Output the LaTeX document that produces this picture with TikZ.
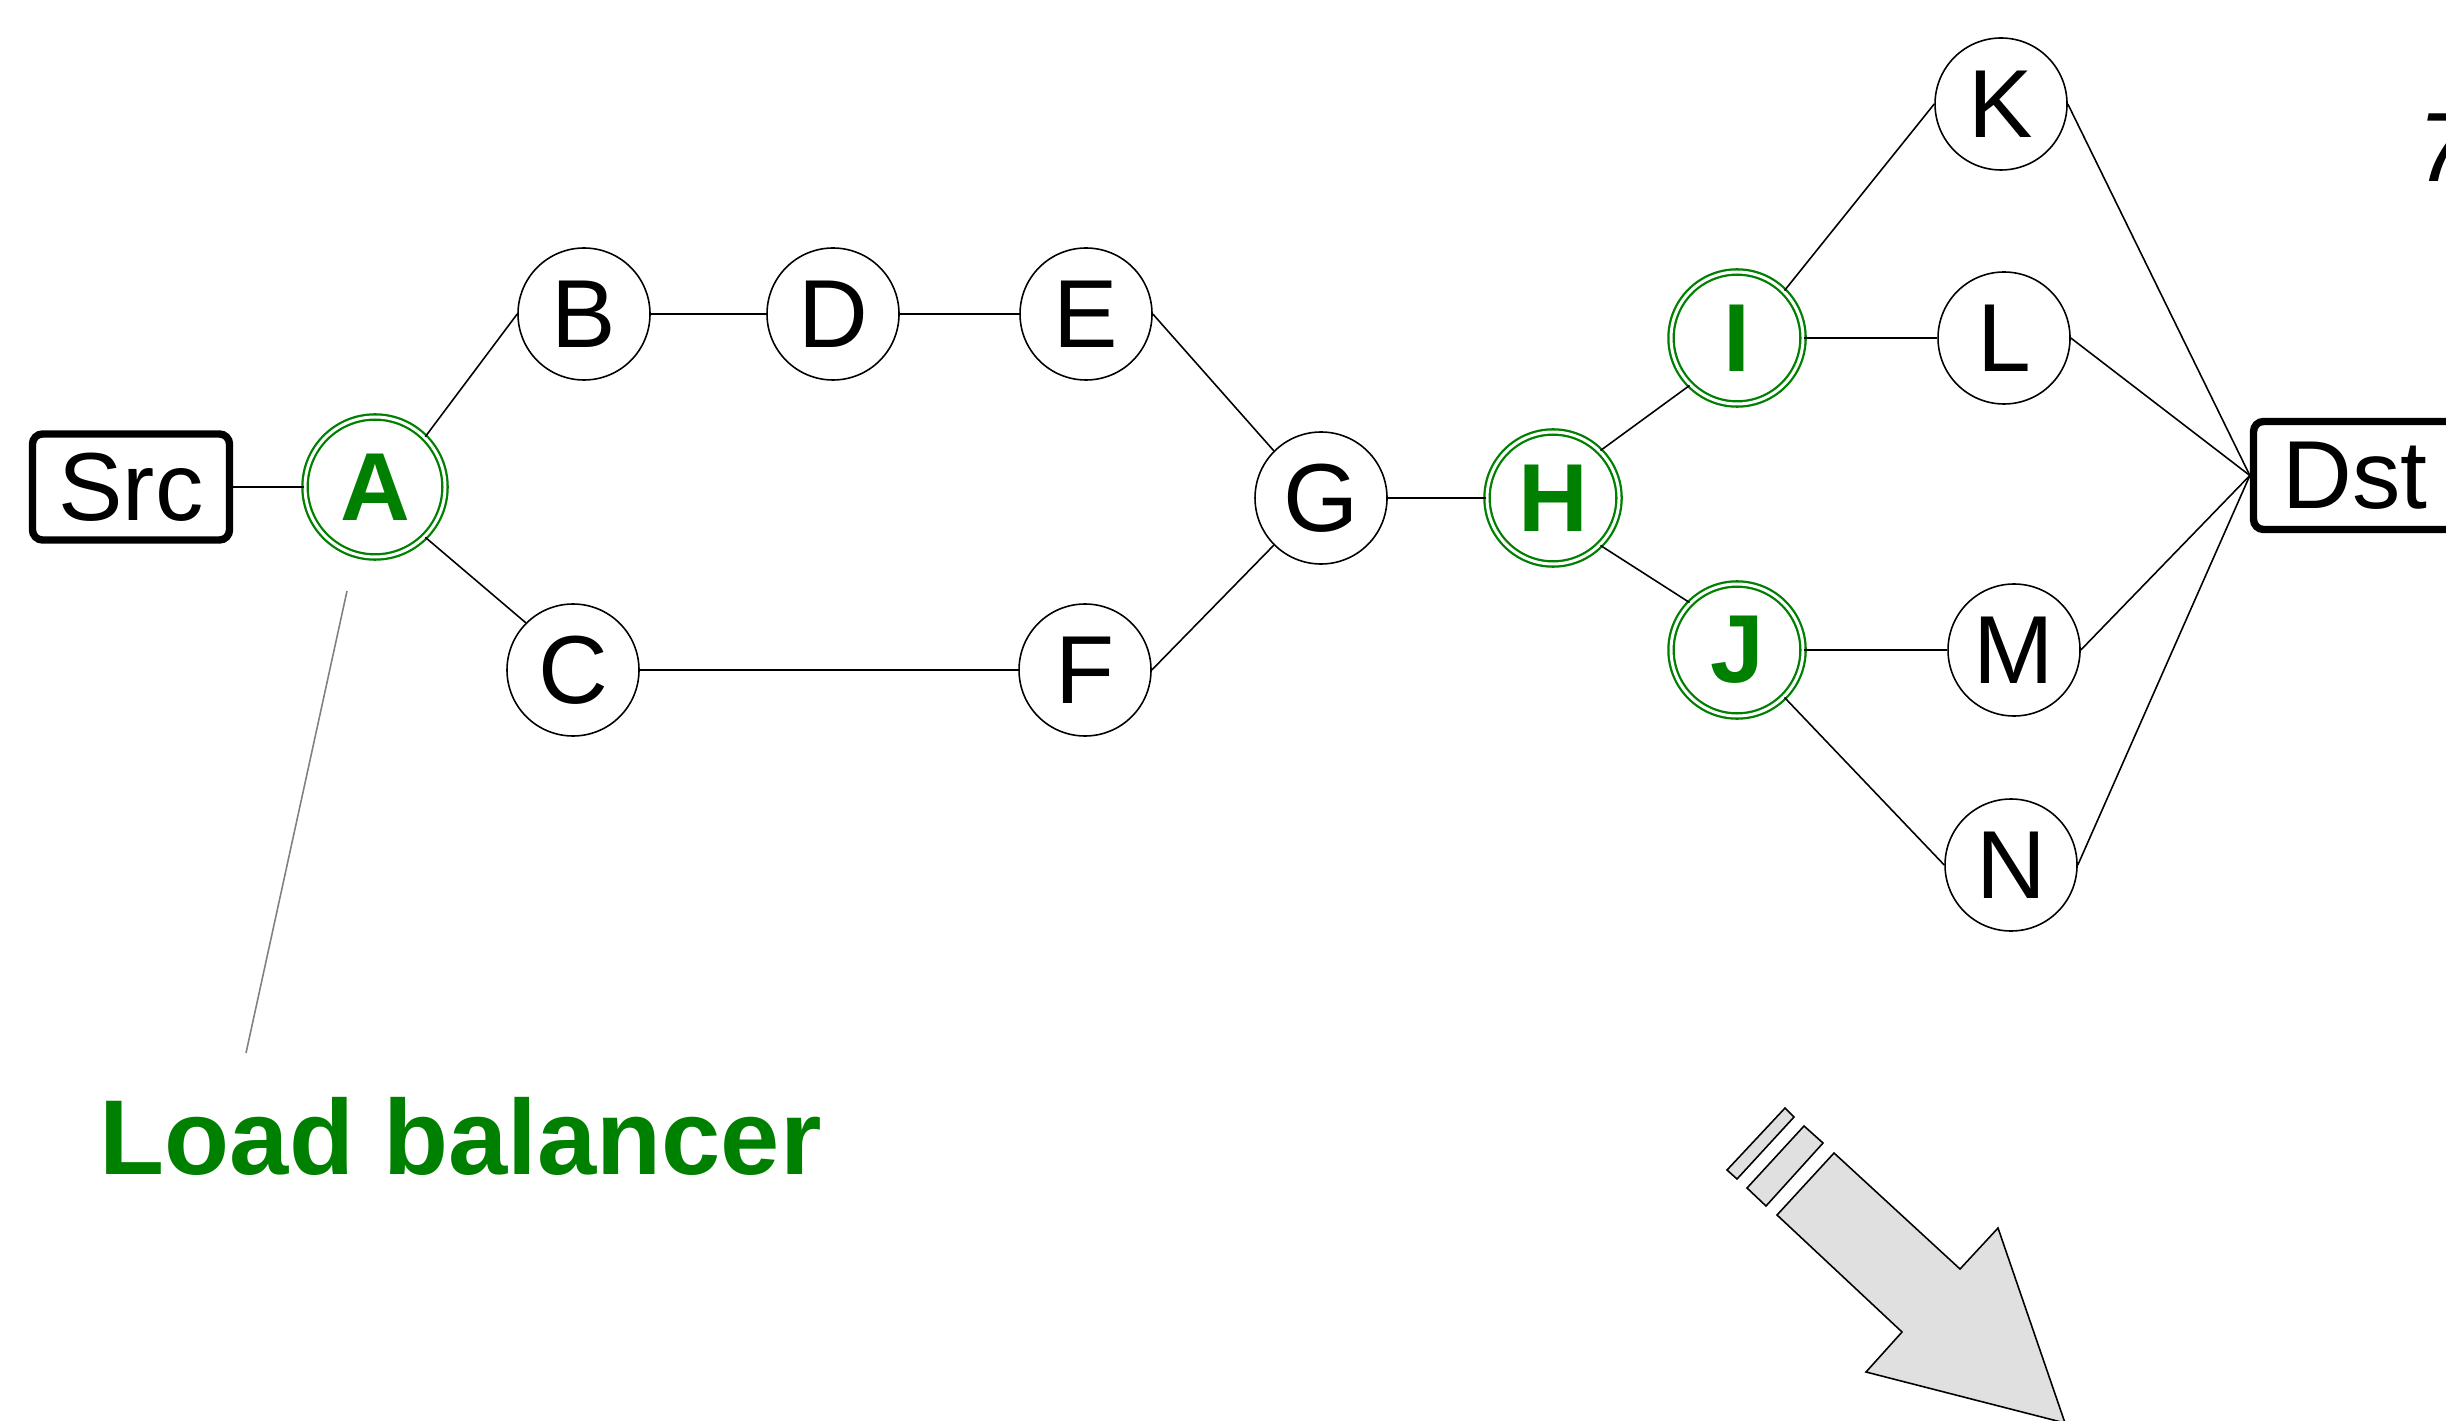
\documentclass[tikz,border=0pt]{standalone}
\usepackage{fontspec}
\setmainfont{Liberation Sans}
\usetikzlibrary{positioning}
\definecolor{lbgreen}{RGB}{0,128,0}
\definecolor{arrowgray}{RGB}{224,224,224}

\begin{document}
\begin{tikzpicture}[
                node distance=2cm, on grid,
                hop/.style={circle, draw=black, line width=0.45pt, fill=white, minimum size=1.32cm, inner sep=0pt, font=\fontsize{27.5}{30}\selectfont},
                balancer/.style={hop, draw=lbgreen, double=white, double distance=0.85pt, line width=0.65pt, text=lbgreen, font=\fontsize{27.5}{30}\selectfont\bfseries},
                endbox/.style={rectangle, draw=black, line width=2.1pt, rounded corners=0.1cm, minimum width=1.97cm, minimum height=1.06cm, inner sep=0pt, font=\fontsize{27.5}{30}\selectfont},
                link/.style={line width=0.45pt, black},
                callout/.style={line width=0.45pt, gray},
                bigarrow/.style={draw=black, line width=0.45pt, fill=arrowgray}
            ]
            \useasboundingbox (0,0) rectangle (24.46,-14.21);

            % Source and first balancer
            \node[endbox] (Src) at (1.31,-4.87) {Src};
            \node[balancer, minimum size=1.4cm, right=2.44 of Src] (A) {A};

            % Upper and lower paths
            \node[hop, above right=1.73 and 2.09 of A] (B) {B};
            \node[hop, right=2.49 of B] (D) {D};
            \node[hop, right=2.53 of D] (E) {E};
            \node[hop, below right=1.83 and 1.98 of A] (C) {C};
            \node[hop, right=5.12 of C] (F) {F};

            % Merge and second balancers
            \node[hop, below right=1.84 and 2.35 of E] (G) {G};
            \node[balancer, right=2.32 of G] (H) {H};
            \node[balancer, above right=1.6 and 1.84 of H] (I) {I};
            \node[balancer, below right=1.52 and 1.84 of H] (J) {J};

            % Last hops and destination
            \node[hop, above right=2.34 and 2.64 of I] (K) {K};
            \node[hop, right=2.67 of I] (L) {L};
            \node[hop, right=2.77 of J] (M) {M};
            \node[hop, below right=2.15 and 2.74 of J] (N) {N};
            \node[endbox, minimum width=2.03cm, minimum height=1.08cm, above right=0.225 and 8.02 of H] (Dst) {Dst};

            % Links
            \draw[link] (Src.east) -- (A.west);
            \draw[link] (A.north east) -- (B.west);
            \draw[link] (A.south east) -- (C.north west);
            \draw[link] (B.east) -- (D.west);
            \draw[link] (D.east) -- (E.west);
            \draw[link] (C.east) -- (F.west);
            \draw[link] (E.east) -- (G.north west);
            \draw[link] (F.east) -- (G.south west);
            \draw[link] (G.east) -- (H.west);
            \draw[link] (H.north east) -- (I.south west);
            \draw[link] (H.south east) -- (J.north west);
            \draw[link] (I.north east) -- (K.west);
            \draw[link] (I.east) -- (L.west);
            \draw[link] (J.east) -- (M.west);
            \draw[link] (J.south east) -- (N.west);
            \foreach \last in {K, L, M, N}
                \draw[link] (\last.east) -- (Dst.west);

            % Load balancer label
            \coordinate (lbtip) at (3.47,-5.91);
            \coordinate (lbfoot) at (2.46,-10.53);
            \draw[callout] (lbtip) -- (lbfoot);
            \node[anchor=base west, inner sep=0pt, text=lbgreen, font=\fontsize{30.3}{34}\selectfont\bfseries] (lblabel) at (0.99,-11.74) {Load balancer};

            % Cut-off title digit
            \node[anchor=base west, inner sep=0pt, font=\fontsize{28}{32}\selectfont\itshape] (title) at (24.17,-1.82) {7};

            % Big arrow with stripes
            \draw[bigarrow] (18.34,-11.53) -- (19.60,-12.69) -- (19.98,-12.28) -- (20.65,-14.23) -- (18.66,-13.72) -- (19.02,-13.32) -- (17.77,-12.15) -- cycle;
            \draw[bigarrow] (17.85,-11.08) -- (17.94,-11.17) -- (17.37,-11.79) -- (17.27,-11.70) -- cycle;
            \draw[bigarrow] (18.04,-11.26) -- (18.23,-11.43) -- (17.66,-12.06) -- (17.47,-11.88) -- cycle;
        \end{tikzpicture}
\end{document}
